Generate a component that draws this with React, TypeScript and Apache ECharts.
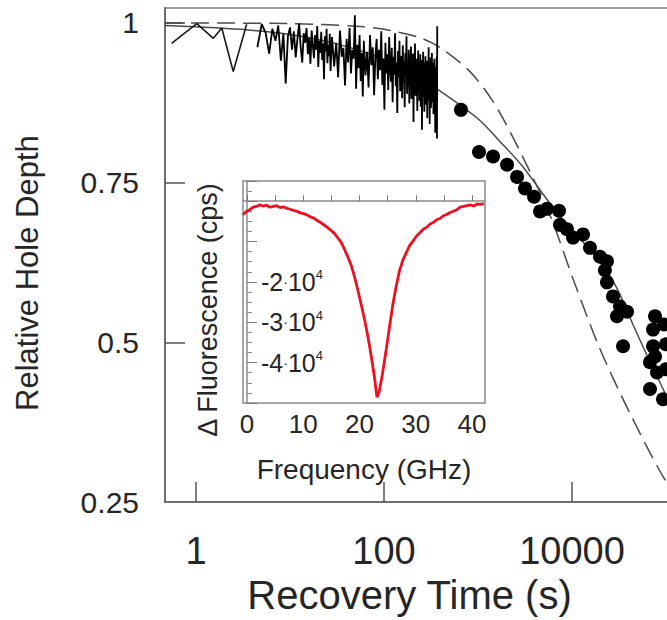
import React, { useEffect, useRef } from "react";
import * as echarts from "echarts";

// ---------- main plot data ----------
const xTickValues = [1, 100, 10000];
const yTickValues = [0.5, 0.75, 1];
const yLabelValues = [0.25, 0.5, 0.75, 1];

const traceEarlyTimes = [0.55, 1.02, 1.53, 1.88, 2.49, 3.46];
const traceEarlyValues = [0.968, 0.999, 0.976, 0.992, 0.924, 0.998];

const traceTimes = [
  4.5, 5, 5.5, 6, 6.5, 7, 7.5, 8, 8.5, 9, 9.5, 10, 10.5, 11, 11.5, 12, 12.5, 13, 13.5, 14,
  14.5, 15, 15.5, 16, 16.5, 17, 17.5, 18, 18.5, 19, 19.5, 20, 20.5, 21, 21.5, 22, 22.5, 23,
  23.5, 24, 24.5, 25, 25.5, 26, 26.5, 27,
  28, 29.5, 31, 32.5, 34, 35.5, 37, 38.5, 40, 41.5, 43, 44.5, 46, 47.5, 49, 50.5, 52, 53.5,
  55, 56.5, 58, 59.5,
  61, 63.5, 66, 68.5, 71, 73.5, 76, 78.5, 81, 83.5, 86, 88.5, 91, 93.5, 96, 98.5, 101, 103.5,
  106, 108.5, 111, 113.5, 116, 118.5, 121, 123.5, 126, 128.5, 131, 133.5, 136, 138.5, 141,
  143.5, 146, 148.5, 151, 153.5, 156, 158.5, 161, 163.5, 166, 168.5, 171, 173.5, 176, 178.5,
  181, 183.5, 186, 188.5, 191, 193.5, 196, 198.5, 201, 203.5, 206, 208.5, 211, 213.5, 216,
  218.5, 221, 223.5, 226, 228.5, 231, 233.5, 236, 238.5, 241, 243.5, 246, 248.5, 251, 253.5,
  256, 258.5, 261, 263.5, 266, 268.5, 271, 273.5, 276, 278.5, 281, 283.5, 286, 288.5, 291,
  293.5, 296, 298.5, 301, 303.5, 306, 308.5, 311, 313.5, 316, 318.5, 321, 323.5, 326, 328.5,
  331, 333.5, 336, 338.5, 341, 343.5, 346, 348.5, 351, 353.5, 356, 358.5, 361, 363.5, 366,
  368.5,
];
const traceValues = [
  0.962, 0.998, 0.985, 0.952, 0.991, 0.972, 0.996, 0.941, 0.983, 0.905, 0.979, 0.993, 0.958,
  0.987, 0.946, 0.975, 0.999, 0.962, 0.938, 0.984, 0.969, 0.992, 0.951, 0.977, 0.936, 0.988,
  0.964, 0.945, 0.981, 0.958, 0.995, 0.931, 0.972, 0.953, 0.986, 0.942, 0.968, 0.912, 0.979,
  0.955, 0.991, 0.937, 0.966, 0.948, 0.983, 0.925,
  0.978, 0.932, 0.969, 0.915, 0.988, 0.947, 0.961, 0.902, 0.975, 0.938, 0.992, 0.921, 0.958,
  0.944, 1.012, 0.897, 0.966, 0.929, 0.981, 0.909, 0.953, 0.885,
  0.972, 0.918, 0.955, 0.899, 0.981, 0.934, 0.962, 0.887, 0.948, 0.975,
  0.912, 0.958, 0.926, 0.987, 0.903, 0.944, 0.864, 0.969, 0.921, 0.951,
  0.895, 0.978, 0.932, 0.908, 0.961, 0.876, 0.947, 0.919, 0.984, 0.901,
  0.938, 0.859, 0.956, 0.915, 0.972, 0.893, 0.929, 0.948, 0.882, 0.965,
  0.907, 0.941, 0.868, 0.953, 0.922, 0.979, 0.889, 0.934, 0.902, 0.958,
  0.874, 0.946, 0.918, 0.963, 0.881, 0.927, 0.899, 0.952, 0.845, 0.936,
  0.912, 0.968, 0.886, 0.931, 0.905, 0.944, 0.862, 0.921, 0.957, 0.893,
  0.939, 0.878, 0.925, 0.951, 0.869, 0.914, 0.942, 0.833, 0.928, 0.897,
  0.955, 0.884, 0.919, 0.861, 0.937, 0.903, 0.948, 0.872, 0.926, 0.891,
  0.941, 0.851, 0.913, 0.934, 0.879, 0.962, 0.895, 0.922, 0.842, 0.931,
  0.904, 0.946, 0.867, 0.918, 0.889, 0.953, 0.876, 0.925, 0.898, 0.938,
  0.857, 0.921, 0.893, 0.944, 0.871, 0.909, 0.828, 0.932, 0.885, 0.916,
  0.862, 0.947, 0.819, 0.995,
];

const solidFitTimes = [0.47, 1, 3, 10, 30, 100, 250, 400, 1000, 1700, 3000, 5800, 10000, 19800, 30000, 44500, 65000, 93000, 150000, 250000];
const solidFitValues = [0.996, 0.994, 0.99, 0.982, 0.968, 0.943, 0.912, 0.893, 0.85, 0.815, 0.775, 0.718, 0.676, 0.627, 0.585, 0.528, 0.475, 0.427, 0.36, 0.3];

const dashedFitTimes = [0.47, 10, 50, 100, 240, 400, 783, 1190, 1700, 3000, 5800, 10700, 19800, 41000, 93000, 250000];
const dashedFitValues = [1.0, 0.999, 0.995, 0.99, 0.977, 0.961, 0.927, 0.895, 0.86, 0.79, 0.7, 0.592, 0.49, 0.39, 0.29, 0.19];

const dotTimes = [
  659, 1025, 1445, 2037, 2603, 3162, 3944, 4571, 5425, 7278, 7453, 8846, 10250, 13100, 15530,
  19850, 22400, 23560, 23560, 27300, 32400, 38500, 30100, 34900, 76400, 72800, 72800, 76400,
  67600, 80200, 67600, 92900, 95200, 100000, 100000,
];
const dotValues = [
  0.864, 0.798, 0.791, 0.778, 0.759, 0.741, 0.728, 0.705, 0.709, 0.706, 0.684, 0.677, 0.664,
  0.669, 0.648, 0.634, 0.613, 0.627, 0.594, 0.572, 0.556, 0.548, 0.541, 0.494, 0.541, 0.52,
  0.494, 0.478, 0.469, 0.453, 0.427, 0.411, 0.528, 0.497, 0.458,
];

// ---------- inset data ----------
const insetFreq = [
  -0.7, -0.1, 0.5, 1.1, 1.7, 2.3, 2.9, 3.5, 4.1, 4.7, 5.3, 5.9, 6.5, 7.1, 7.7, 8.3, 8.9, 9.5,
  10.1, 10.7, 11.3, 11.9, 12.5, 13.1, 13.7, 14.3, 14.9, 15.5, 16.1, 16.7, 17.3, 17.9, 18.5,
  19.1, 19.7, 20.3, 20.9, 21.5, 22.1, 22.7, 23.1, 23.5, 24.1, 24.7, 25.3, 25.9, 26.5, 27.1,
  27.7, 28.3, 28.9, 29.5, 30.1, 30.7, 31.3, 31.9, 32.5, 33.1, 33.7, 34.3, 34.9, 35.5, 36.1,
  36.7, 37.3, 37.9, 38.5, 39.1, 39.7, 40.3, 40.9, 41.5, 42.1,
];
const insetSignal = [
  -3300, -2600, -2100, -1500, -1300, -900, -1200, -1000, -1500, -1300, -1100, -1600, -1400,
  -1800, -2000, -2300, -2500, -2900, -3100, -3400, -3900, -4200, -4800, -5300, -5900, -6500,
  -7200, -7900, -9000, -10100, -11800, -13700, -15800, -18600, -22000, -25600, -29300, -33600,
  -38500, -44000, -48600, -47200, -42600, -37200, -31500, -25800, -21200, -17300, -14600,
  -12800, -11000, -9900, -8700, -7900, -7000, -6500, -5700, -5300, -4600, -4300, -3600, -3300,
  -2800, -2500, -2100, -1500, -1300, -1100, -900, -1200, -700, -800, -600,
];
const insetYLabelValues = [-20000, -30000, -40000];
const insetXTickValues = [0, 5, 10, 15, 20, 25, 30, 35, 40];
const insetXLabelValues = [0, 10, 20, 30, 40];

const FONT = "'Liberation Sans', Arial, Helvetica, sans-serif";
const TEXT = "#262626";

const zip = (a: number[], b: number[]) => a.map((v, i) => [v, b[i]]);

function buildOption(): any {
  return {
    animation: false,
    backgroundColor: "#ffffff",
    grid: [
      { left: 165, top: 8, width: 595, height: 495, show: true, borderColor: "#a0a0a0", borderWidth: 2 },
      { left: 243, top: 181, width: 242, height: 222, show: true, borderColor: "#8c8c8c", borderWidth: 1.5 },
    ],
    xAxis: [
      {
        gridIndex: 0,
        type: "log",
        logBase: 100,
        min: 0.468,
        max: 1000000,
        axisLine: { show: true, lineStyle: { color: "#6e6e6e", width: 2 } },
        axisTick: { show: true, inside: true, length: 20, lineStyle: { color: "#555", width: 1.5 } },
        axisLabel: {
          showMinLabel: false,
          showMaxLabel: false,
          margin: 30,
          fontSize: 38,
          fontFamily: FONT,
          color: TEXT,
          formatter: (v: number) => (xTickValues.some((t) => Math.abs(t - v) / t < 1e-6) ? String(Math.round(v)) : ""),
        },
        splitLine: { show: false },
        minorTick: { show: false },
        name: "Recovery Time (s)",
        nameLocation: "middle",
        nameGap: 70,
        nameTextStyle: { fontSize: 40, fontFamily: FONT, color: TEXT, padding: [0, 106, 0, 0] },
      },
      {
        gridIndex: 1,
        type: "value",
        min: -0.7,
        max: 42.3,
        axisLine: { show: true, lineStyle: { color: "#8c8c8c", width: 1.5 } },
        axisTick: { show: true, inside: true, length: 6, customValues: insetXTickValues, lineStyle: { color: "#777", width: 1 } },
        axisLabel: {
          customValues: insetXLabelValues,
          margin: 8,
          fontSize: 26,
          fontFamily: FONT,
          color: TEXT,
          formatter: (v: number) => String(v),
        },
        splitLine: { show: false },
        name: "Frequency (GHz)",
        nameLocation: "middle",
        nameGap: 52,
        nameTextStyle: { fontSize: 28, fontFamily: FONT, color: TEXT },
      },
    ],
    yAxis: [
      {
        gridIndex: 0,
        type: "value",
        min: 0.25,
        max: 1.0234,
        axisLine: { show: true, lineStyle: { color: "#6e6e6e", width: 2 } },
        axisTick: { show: true, inside: true, length: 20, customValues: yTickValues, lineStyle: { color: "#555", width: 1.5 } },
        axisLabel: {
          customValues: yLabelValues,
          margin: 26,
          fontSize: 30,
          fontFamily: FONT,
          color: TEXT,
          formatter: (v: number) => String(v),
        },
        splitLine: { show: false },
        name: "Relative Hole Depth",
        nameLocation: "middle",
        nameGap: 122,
        nameTextStyle: { fontSize: 31, fontFamily: FONT, color: TEXT, padding: [0, 36, 0, 0] },
      },
      {
        gridIndex: 1,
        type: "value",
        min: -50000,
        max: 5000,
        interval: 10000,
        axisLine: { show: true, lineStyle: { color: "#8c8c8c", width: 1.5 } },
        axisTick: { show: true, inside: true, length: 10, lineStyle: { color: "#777", width: 1 } },
        minorTick: { show: true, splitNumber: 4, length: 5, lineStyle: { color: "#888", width: 1 } },
        axisLabel: {
          inside: true,
          customValues: insetYLabelValues,
          margin: 18,
          fontFamily: FONT,
          color: TEXT,
          formatter: (v: number) => `{n|${Math.round(v / 10000)}}{d|·}{n|10}{s|4}`,
          rich: {
            n: { fontSize: 25, fontFamily: FONT, color: TEXT },
            d: { fontSize: 14, fontFamily: FONT, color: TEXT },
            s: { fontSize: 13, fontFamily: FONT, color: TEXT, padding: [0, 0, 14, 0] },
          },
        },
        splitLine: { show: false },
        name: "Δ Fluorescence (cps)",
        nameLocation: "middle",
        nameGap: 22,
        nameTextStyle: { fontSize: 27, fontFamily: FONT, color: TEXT, padding: [0, 36, 0, 0] },
      },
    ],
    series: [
      {
        name: "Hole depth trace (early)",
        type: "line",
        xAxisIndex: 0,
        yAxisIndex: 0,
        data: zip(traceEarlyTimes, traceEarlyValues),
        showSymbol: false,
        lineStyle: { color: "#1a1a1a", width: 1.6 },
      },
      {
        name: "Hole depth trace",
        type: "line",
        xAxisIndex: 0,
        yAxisIndex: 0,
        data: zip(traceTimes, traceValues),
        showSymbol: false,
        lineStyle: { color: "#000000", width: 1.8 },
      },
      {
        name: "Stretched fit",
        type: "line",
        xAxisIndex: 0,
        yAxisIndex: 0,
        data: zip(solidFitTimes, solidFitValues),
        smooth: 0.3,
        showSymbol: false,
        lineStyle: { color: "#4a4a4a", width: 1.5 },
        z: 1,
      },
      {
        name: "Exponential fit",
        type: "line",
        xAxisIndex: 0,
        yAxisIndex: 0,
        data: zip(dashedFitTimes, dashedFitValues),
        smooth: 0.3,
        showSymbol: false,
        lineStyle: { color: "#4a4a4a", width: 1.5, type: [18, 8] },
        z: 1,
      },
      {
        name: "Hole depth points",
        type: "scatter",
        xAxisIndex: 0,
        yAxisIndex: 0,
        data: zip(dotTimes, dotValues),
        symbol: "circle",
        symbolSize: 14,
        itemStyle: { color: "#000000", opacity: 1 },
        z: 3,
      },
      {
        name: "Hole spectrum",
        type: "line",
        xAxisIndex: 1,
        yAxisIndex: 1,
        data: zip(insetFreq, insetSignal),
        showSymbol: false,
        lineStyle: { color: "#ee1020", width: 2.8 },
        z: 6,
      },
    ],
  };
}

export default function App() {
  const ref = useRef<HTMLDivElement>(null);
  useEffect(() => {
    if (!ref.current) return;
    const chart = echarts.init(ref.current, null, { renderer: "svg" });
    chart.setOption(buildOption());
    return () => chart.dispose();
  }, []);
  return (
    <div style={{ position: "fixed", left: 0, top: 0, width: 667, height: 620, overflow: "hidden", background: "#ffffff" }}>
      <div ref={ref} style={{ position: "absolute", left: 0, top: 0, width: 760, height: 620 }} />
    </div>
  );
}
